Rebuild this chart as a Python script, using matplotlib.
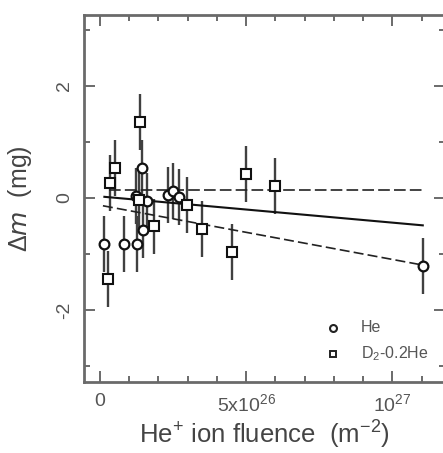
import matplotlib
matplotlib.use("Agg")
import matplotlib.pyplot as plt
from matplotlib.ticker import FixedLocator, FixedFormatter, MultipleLocator
import numpy as np

plt.rcParams['font.family'] = ['Liberation Sans', 'DejaVu Sans']
plt.rcParams['mathtext.default'] = 'regular'

# fluence in units of 1e26 m^-2
he_x = [0.12, 0.82, 1.25, 1.22, 1.43, 1.48, 1.62, 2.31, 2.51, 2.71, 11.04]
he_y = [-0.82, -0.83, -0.83, 0.03, 0.53, -0.57, -0.05, 0.06, 0.13, 0.01, -1.21]
he_err = [0.5] * 11

d2_x = [0.29, 0.34, 0.53, 1.37, 1.33, 1.86, 2.98, 3.50, 4.51, 5.0, 6.0]
d2_y = [-1.45, 0.27, 0.54, 1.36, -0.03, -0.51, -0.13, -0.55, -0.97, 0.42, 0.21]
d2_err = [0.5] * 11

# fit lines (endpoints)
fit_solid_x = [0.15, 11.04]
fit_solid_y = [0.02, -0.49]
fit_upper_x = [0.3, 11.04]
fit_upper_y = [0.14, 0.14]
fit_lower_x = [0.1, 11.04]
fit_lower_y = [-0.14, -1.20]

xtick_vals = [0, 5, 10]
xtick_labels = ['0', '5x10$^{26}$', '10$^{27}$']
ytick_vals = [-2, 0, 2]
ytick_labels = ['-2', '0', '2']

fig = plt.figure(figsize=(4.43, 4.53), dpi=100)
ax = fig.add_axes([84/443, 1-382/453, 361/443, (382-15)/453])

spine_col = '#6a6a6a'
ecol = '#404040'

ax.errorbar(he_x, he_y, yerr=he_err, fmt='none', ecolor=ecol, elinewidth=1.7, capsize=0, zorder=2)
ax.errorbar(d2_x, d2_y, yerr=d2_err, fmt='none', ecolor=ecol, elinewidth=1.7, capsize=0, zorder=2)

ax.plot(fit_solid_x, fit_solid_y, color='#111111', lw=1.5, zorder=3)
ax.plot(fit_upper_x, fit_upper_y, color='#222222', lw=1.2, dashes=(7, 2.5), zorder=3)
ax.plot(fit_lower_x, fit_lower_y, color='#222222', lw=1.2, dashes=(6, 2.5), zorder=3)

ax.plot(he_x, he_y, 'o', ms=7, mfc='white', mec='#111111', mew=1.6, ls='none', zorder=4)
ax.plot(d2_x, d2_y, 's', ms=6.5, mfc='white', mec='#111111', mew=1.5, ls='none', zorder=4)

ax.set_xlim(-0.547, 11.8)
ax.set_ylim(-3.29, 3.27)

ax.xaxis.set_major_locator(FixedLocator(xtick_vals))
ax.xaxis.set_major_formatter(FixedFormatter(xtick_labels))
ax.xaxis.set_minor_locator(MultipleLocator(1))
ax.yaxis.set_major_locator(FixedLocator(ytick_vals))
ax.yaxis.set_major_formatter(FixedFormatter(ytick_labels))
ax.yaxis.set_minor_locator(MultipleLocator(1))

ax.tick_params(which='both', direction='in', top=True, right=True, color=spine_col, labelcolor='#555555')
ax.tick_params(which='major', length=8, width=1.4, labelsize=14, pad=8)
ax.tick_params(which='minor', length=4.5, width=1.4)
for lab in ax.get_yticklabels():
    lab.set_rotation(90)
    lab.set_va('center')

for s in ax.spines.values():
    s.set_color(spine_col)
    s.set_linewidth(2)
ax.spines['right'].set_visible(False)

ax.set_xlabel('He$^{+}$ ion fluence  (m$^{-2}$)', fontsize=18.5, color='#444444', labelpad=3)
ax.set_ylabel('Δ$\\it{m}$  (mg)', fontsize=18, color='#444444', labelpad=16)

# legend
lx, ly1, ly2 = 333/443, 1-328/453, 1-354/453
fig.lines.append(plt.Line2D([lx], [ly1], marker='o', ms=5, mfc='white', mec='#222222', mew=1.5, transform=fig.transFigure))
fig.lines.append(plt.Line2D([lx], [ly2], marker='s', ms=4.5, mfc='white', mec='#222222', mew=1.4, transform=fig.transFigure))
fig.text(361/443, ly1, 'He', ha='left', va='center', fontsize=11.5, color='#555555')
fig.text(361/443, ly2, 'D$_2$-0.2He', ha='left', va='center', fontsize=11.5, color='#555555')

fig.savefig('out.png', dpi=100)
